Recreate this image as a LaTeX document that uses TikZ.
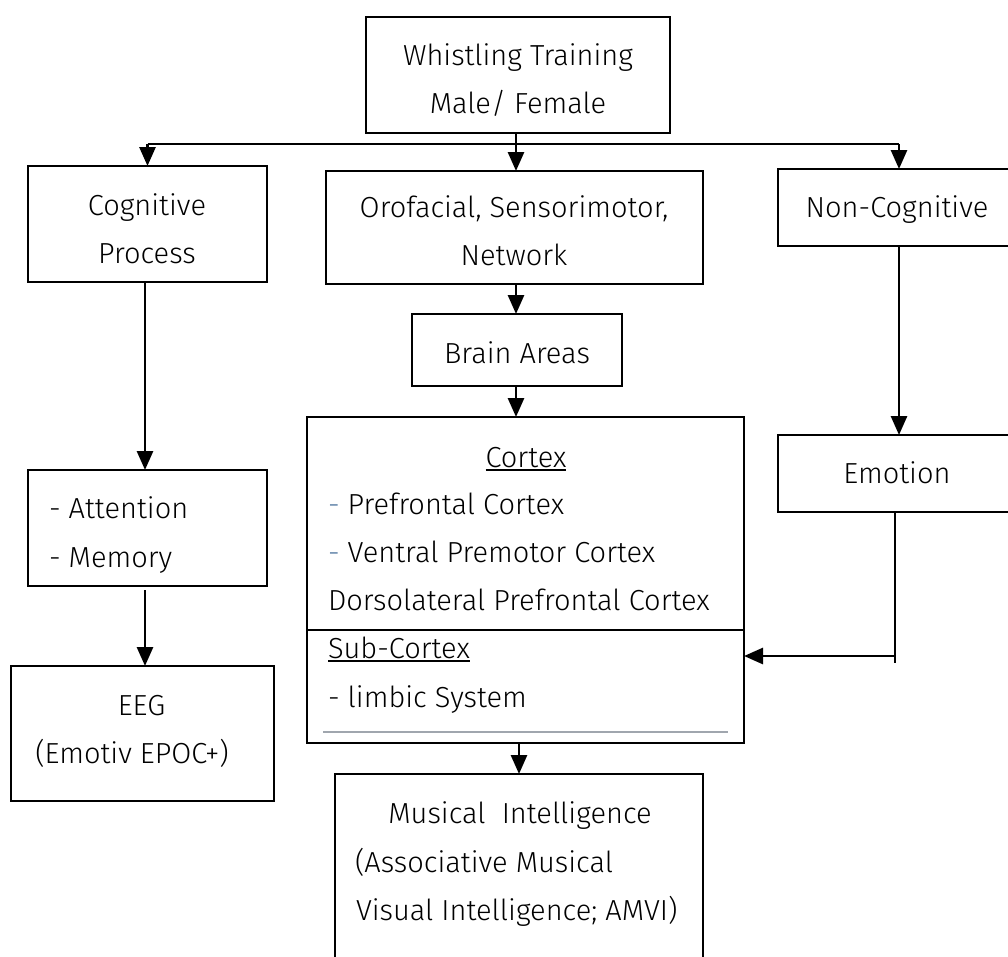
\documentclass[tikz,border=0pt]{standalone}
\usepackage{fontspec}
\setmainfont{Fira Sans}[UprightFont=* Light]
\usetikzlibrary{arrows.meta}
\definecolor{dashblue}{HTML}{5B7FA6}
\definecolor{rulegrey}{HTML}{A0A6AE}
\begin{document}
\begin{tikzpicture}[x=1pt,y=-1pt,
  box/.style={draw,line width=1.8pt,inner sep=0pt,outer sep=0pt},
  txt/.style={inner sep=0pt,outer sep=0pt,anchor=base,font=\fontsize{29}{34}\selectfont},
  ltxt/.style={txt,anchor=base west},
  conn/.style={line width=2.8pt,-{Triangle[length=19pt,width=16pt]}},
  plain/.style={line width=2.8pt},
  thinline/.style={line width=1.6pt}]
\clip (0,0) rectangle (1008,956);
\fill[white] (0,0) rectangle (1008,956);

% boxes
\node[box,minimum width=304pt,minimum height=116pt] (top) at (518,75) {};
\node[box,minimum width=239pt,minimum height=116pt] (cog) at (147.5,224) {};
\node[box,minimum width=377pt,minimum height=113pt] (oro) at (514.5,227.5) {};
\node[box,minimum width=242pt,minimum height=77pt] (noncog) at (899,207.5) {};
\node[box,minimum width=210pt,minimum height=72pt] (brain) at (517,350) {};
\node[box,minimum width=437pt,minimum height=326pt] (cortex) at (525.5,580) {};
\node[box,minimum width=242pt,minimum height=77pt] (emotion) at (899,473.5) {};
\node[box,minimum width=239pt,minimum height=116pt] (attn) at (147.5,528) {};
\node[box,minimum width=263pt,minimum height=135pt] (eeg) at (142.5,733.5) {};
\node[box,minimum width=368pt,minimum height=216pt] (music) at (519,882) {};

% texts
\node[txt] (t1) at (518,65) {Whistling Training};
\node[txt] (t2) at (518,113) {Male/ Female};
\node[txt] (c1) at (147,215) {Cognitive};
\node[txt] (c2) at (147,263) {Process};
\node[txt] (o1) at (514,217) {Orofacial, Sensorimotor,};
\node[txt] (o2) at (514,265) {Network};
\node[txt] (n1) at (897,217) {Non-Cognitive};
\node[txt] (b1) at (517,363) {Brain Areas};
\node[txt] (ctx) at (526,467) {Cortex};
\node[ltxt] (p1) at (328,514) {{\color{dashblue}-} Prefrontal Cortex};
\node[ltxt] (p2) at (328,562) {{\color{dashblue}-} Ventral Premotor Cortex};
\node[ltxt] (p3) at (328,610) {Dorsolateral Prefrontal Cortex};
\node[ltxt] (sub) at (328,658) {Sub-Cortex};
\node[ltxt] (lim) at (328,707) {- limbic System};
\node[txt] (e1) at (897,483) {Emotion};
\node[ltxt] (a1) at (49,518) {- Attention};
\node[ltxt] (a2) at (49,567) {- Memory};
\node[txt] (g1) at (141.5,715) {EEG};
\node[txt] (g2) at (132,763) {(Emotiv EPOC+)};
\node[txt] (m1) at (520,823) {Musical\ \ Intelligence};
\node[ltxt] (m2) at (355,872) {(Associative Musical};
\node[ltxt] (m3) at (356,920) {Visual Intelligence; AMVI)};

% underlines and rules inside the cortex box
\draw[line width=1.4pt] ([yshift=-3pt]ctx.base west) -- ([yshift=-3pt]ctx.base east);
\draw[line width=1.4pt] ([yshift=-3pt]sub.base west) -- ([yshift=-3pt]sub.base east);
\draw[line width=1.8pt] (cortex.west |- 0,630) -- (cortex.east |- 0,630);
\draw[rulegrey,line width=1.6pt] ([xshift=16pt]cortex.west |- 0,732) -- ([xshift=-16pt]cortex.east |- 0,732);

% branching from the top box
\coordinate (split) at (516,144);
\draw[conn] (top.south -| split) -- (oro.north -| split);
\draw[plain] (cog.north |- split) -- (noncog.north |- split);
\draw[conn] (cog.north |- split) -- (cog.north);
\draw[conn] (noncog.north |- split) -- (noncog.north);

% vertical chains
\draw[conn] (oro.south -| split) -- (brain.north -| split);
\draw[conn] (brain.south -| split) -- (cortex.north -| split);
\draw[conn] (cortex.south -| 519,0) -- (music.north -| 519,0);
\draw[conn] (noncog.south) -- (emotion.north);
\draw[conn] (cog.south -| 145,0) -- (attn.north -| 145,0);
\coordinate (agap) at (145,590);
\draw[conn] (agap) -- (eeg.north -| agap);

% emotion feeds into the sub-cortex
\coordinate (ebend) at (895,656);
\coordinate (etail) at (895,663);
\draw[thinline] (emotion.south -| ebend) -- (etail);
\draw[conn] (ebend) -- (cortex.east |- ebend);
\end{tikzpicture}
\end{document}
